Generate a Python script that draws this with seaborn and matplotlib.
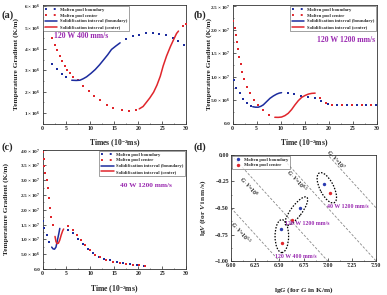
import matplotlib
matplotlib.use('Agg')
import matplotlib.pyplot as plt
import seaborn as sns
from matplotlib.lines import Line2D
from matplotlib.patches import Ellipse
from matplotlib.ticker import AutoMinorLocator

# estilo
sns.set_theme(style='ticks')
plt.rcParams['font.family'] = ['Liberation Serif', 'DejaVu Serif']
plt.rcParams['font.weight'] = 'bold'
plt.rcParams['mathtext.fontset'] = 'custom'
plt.rcParams['mathtext.rm'] = 'Liberation Serif:bold'
plt.rcParams['mathtext.it'] = 'Liberation Serif:italic:bold'
plt.rcParams['mathtext.bf'] = 'Liberation Serif:bold'

AZUL = '#1c2c9e'
VERMELHO = '#e0262c'
ROXO = '#9a2ab0'

# --- dados painel (a): 120 W 400 mm/s (gradiente em 1e6 K/m) ---
a_bnd_t = [2.0, 3.1, 4.1, 5.0, 17.4, 18.8, 20.2, 21.6, 23.0, 24.4, 25.8, 27.2, 28.4, 29.6]
a_bnd_g = [3.30, 3.05, 2.83, 2.69, 4.44, 4.59, 4.67, 4.75, 4.75, 4.70, 4.63, 4.52, 4.36, 4.16]
a_bnd_sol_t = [6.1, 7.0, 7.8, 8.5, 9.2, 10.1, 11.0, 11.9, 12.7, 13.6, 14.4, 15.3, 16.2]
a_bnd_sol_g = [2.53, 2.52, 2.53, 2.60, 2.69, 2.85, 3.03, 3.25, 3.47, 3.72, 3.97, 4.13, 4.28]
a_ctr_t = [2.0, 2.6, 3.1, 3.6, 4.1, 4.7, 5.2, 5.7, 6.4, 7.3, 8.4, 9.6, 10.8, 12.0, 13.4,
           14.8, 16.5, 18.1, 19.5, 29.3, 30.0]
a_ctr_g = [4.52, 4.20, 3.94, 3.66, 3.42, 3.19, 3.03, 2.88, 2.69, 2.53, 2.25, 2.02, 1.78,
           1.59, 1.39, 1.23, 1.13, 1.08, 1.16, 5.05, 5.18]
a_ctr_sol_t = [20.2, 21.0, 21.6, 22.4, 23.2, 23.9, 24.6, 25.2, 25.9, 26.7, 27.4, 28.0, 28.4]
a_ctr_sol_g = [1.19, 1.30, 1.47, 1.70, 1.97, 2.30, 2.72, 3.20, 3.66, 4.10, 4.44, 4.72, 4.83]

# --- dados painel (b): 120 W 1200 mm/s ---
b_bnd_t = [0.3, 0.7, 1.5, 2.2, 3.05, 3.75, 11.5, 12.8, 14.2, 15.8, 17.2, 18.4,
           19.8, 21.8, 23.9, 25.9, 27.9, 29.9]
b_bnd_g = [9.2, 7.5, 6.5, 5.3, 4.3, 3.8, 6.6, 6.3, 5.9, 5.6, 5.4, 4.9,
           4.2, 4.0, 4.0, 4.0, 4.0, 4.0]
b_bnd_sol_t = [4.2, 4.8, 5.35, 5.9, 6.4, 7.1, 7.8, 8.5, 9.2, 9.7, 10.2]
b_bnd_sol_g = [3.6, 3.5, 3.5, 3.7, 4.0, 4.7, 5.4, 5.9, 6.3, 6.5, 6.6]
b_ctr_t = [0.14, 0.42, 0.63, 0.83, 1.1, 1.4, 1.67, 2.0, 2.4, 2.9, 3.6, 4.4, 5.3, 6.4, 7.6,
           18.3, 19.4, 20.8, 22.8, 24.9, 26.9, 28.9]
b_ctr_g = [21.8, 20.4, 18.8, 17.4, 15.9, 14.3, 12.7, 11.1, 9.5, 7.9, 6.5, 5.1, 4.0, 2.8, 1.85,
           5.4, 4.5, 4.0, 4.0, 4.0, 4.0, 4.0]
b_ctr_sol_t = [8.8, 9.5, 10.2, 10.9, 11.6, 12.3, 13.0, 13.7, 14.4, 15.1, 15.8, 16.5, 17.2]
b_ctr_sol_g = [1.35, 1.33, 1.4, 1.7, 2.2, 3.0, 4.0, 4.9, 5.6, 6.0, 6.3, 6.45, 6.5]

# --- dados painel (c): 40 W 1200 mm/s ---
c_bnd_t = [0.0, 0.35, 0.84, 1.4, 5.3, 6.4, 7.4, 8.4, 9.4, 10.5, 11.7, 12.8, 14.1,
           15.5, 16.9, 18.3, 19.7, 21.1]
c_bnd_g = [16.2, 13.7, 11.6, 9.1, 13.3, 12.0, 10.2, 8.3, 6.8, 5.5, 4.2, 3.4, 2.9,
           2.3, 1.9, 1.6, 1.4, 1.1]
c_bnd_sol_t = [1.9, 2.2, 2.5, 2.8, 3.1, 3.4, 3.6]
c_bnd_sol_g = [7.4, 6.8, 6.7, 7.4, 9.7, 12.0, 13.7]
c_ctr_t = [0.0, 0.2, 0.4, 0.6, 0.84, 1.05, 1.25, 1.5, 1.8, 2.2, 5.4, 6.3, 7.1, 8.0, 8.9,
           9.9, 11.0, 12.0, 13.3, 14.7, 16.1, 17.4, 18.8, 20.2, 21.4]
c_ctr_g = [39.4, 37.1, 34.8, 32.5, 30.2, 27.4, 24.0, 20.5, 17.7, 14.8, 14.6, 13.1, 11.4,
           9.7, 8.0, 6.3, 4.9, 3.9, 3.1, 2.5, 2.1, 1.7, 1.5, 1.4, 1.1]
c_ctr_sol_t = [2.6, 2.8, 3.0, 3.3, 3.6, 3.9, 4.2, 4.4]
c_ctr_sol_g = [11.0, 9.3, 8.6, 8.7, 9.8, 11.5, 12.9, 13.5]

# --- dados painel (d): lgG x lgV ---
d_bnd_lgG = [6.52, 6.71, 6.96]
d_bnd_lgV = [-0.70, -0.50, -0.27]
d_ctr_lgG = [6.53, 6.63, 7.02]
d_ctr_lgV = [-0.83, -0.61, -0.36]
d_casos = ['120 W 400 mm/s', '120 W 1200 mm/s', '40 W 1200 mm/s']
d_casos_pos = [(6.67, -0.96), (6.79, -0.65), (7.21, -0.49)]
# elipses: centro, largura, altura, angulo
d_elipses = [((6.525, -0.765), 0.14, 0.31, 0),
             ((6.675, -0.53), 0.34, 0.11, 50),
             ((6.99, -0.31), 0.32, 0.14, -60)]
# linhas G*V = 10^c
d_gv_exp = [5.5, 6.0, 6.5, 7.0]
d_gv_txt = ['5.5', '6', '6.5', '7']
d_gv_pos = [(6.10, -0.74), (6.18, -0.30), (6.68, -0.25), (7.08, -0.05)]

legenda_txt = ['Molten pool boundary', 'Molten pool center',
               'Solidification interval (boundary)', 'Solidification interval (center)']

fig = plt.figure(figsize=(3.87, 2.95), dpi=100)
ax_a = fig.add_axes([0.110, 0.581, 0.371, 0.402])
ax_b = fig.add_axes([0.601, 0.581, 0.372, 0.402])
ax_c = fig.add_axes([0.110, 0.088, 0.371, 0.404])
ax_d = fig.add_axes([0.597, 0.115, 0.375, 0.360])


def estilo_eixo(ax, ysize=3.6):
    for s in ax.spines.values():
        s.set_linewidth(0.6)
        s.set_color('#333333')
    ax.tick_params(which='major', direction='in', length=2, width=0.5, pad=1.5,
                   colors='#222222')
    ax.tick_params(axis='x', labelsize=4.2)
    ax.tick_params(axis='y', labelsize=ysize)
    ax.tick_params(which='minor', direction='in', length=1, width=0.4)
    ax.xaxis.set_minor_locator(AutoMinorLocator(2))
    ax.yaxis.set_minor_locator(AutoMinorLocator(2))
    for lab in ax.get_xticklabels() + ax.get_yticklabels():
        lab.set_fontweight('bold')


def painel_tempo(ax, bnd_t, bnd_g, bsol_t, bsol_g, ctr_t, ctr_g, csol_t, csol_g):
    sns.scatterplot(x=bnd_t, y=[g * 1e6 for g in bnd_g], ax=ax, marker='s',
                    s=3.5, color=AZUL, linewidth=0, zorder=3)
    sns.scatterplot(x=ctr_t, y=[g * 1e6 for g in ctr_g], ax=ax, marker='s',
                    s=3.5, color=VERMELHO, linewidth=0, zorder=3)
    sns.lineplot(x=bsol_t, y=[g * 1e6 for g in bsol_g], ax=ax, color=AZUL, lw=1.1,
                 sort=False, estimator=None, zorder=4)
    sns.lineplot(x=csol_t, y=[g * 1e6 for g in csol_g], ax=ax, color=VERMELHO, lw=1.1,
                 sort=False, estimator=None, zorder=4)
    ax.set_xlim(0, 30)
    ax.set_xticks([0, 5, 10, 15, 20, 25, 30])


def legenda(ax, loc):
    handles = [Line2D([], [], color=AZUL, lw=1.4, ls=(0, (1, 3.5))),
               Line2D([], [], color=VERMELHO, lw=1.4, ls=(0, (1, 3.5))),
               Line2D([], [], color=AZUL, lw=1.1),
               Line2D([], [], color=VERMELHO, lw=1.1)]
    leg = ax.legend(handles, legenda_txt, loc=loc, prop={'weight': 'bold', 'size': 3.3},
                    frameon=True, fancybox=False, edgecolor='#333333', borderpad=0.4,
                    handlelength=2.7, labelspacing=0.35, borderaxespad=0.15,
                    handletextpad=0.6)
    leg.get_frame().set_linewidth(0.4)


# painel (a)
painel_tempo(ax_a, a_bnd_t, a_bnd_g, a_bnd_sol_t, a_bnd_sol_g,
             a_ctr_t, a_ctr_g, a_ctr_sol_t, a_ctr_sol_g)
ax_a.set_ylim(0.5e6, 6.05e6)
ticks_a = [1, 2, 3, 4, 5, 6]
ax_a.set_yticks([t * 1e6 for t in ticks_a])
ax_a.set_yticklabels([r'$%d\times10^6$' % t for t in ticks_a])
ax_a.set_xlabel(r'Times (10$^{-2}$ms)', fontsize=5.5, fontweight='bold')
ax_a.set_ylabel('Temperature Gradient (K/m)', fontsize=5.3, fontweight='bold')
ax_a.text(2.3, 4.6e6, '120 W 400 mm/s', color=ROXO, fontsize=5.6, fontweight='bold',
          va='center', ha='left')
legenda(ax_a, 'upper left')

# painel (b)
painel_tempo(ax_b, b_bnd_t, b_bnd_g, b_bnd_sol_t, b_bnd_sol_g,
             b_ctr_t, b_ctr_g, b_ctr_sol_t, b_ctr_sol_g)
ax_b.set_ylim(0, 2.53e7)
ticks_b = [0, 5e6, 1e7, 1.5e7, 2e7, 2.5e7]
ax_b.set_yticks(ticks_b)
ax_b.set_yticklabels(['0.0', r'$5.0\times10^6$', r'$1.0\times10^7$', r'$1.5\times10^7$',
                      r'$2.0\times10^7$', r'$2.5\times10^7$'])
ax_b.set_xlabel(r'Time (10$^{-2}$ms)', fontsize=5.5, fontweight='bold')
ax_b.set_ylabel('Temperature Gradient (K/m)', fontsize=5.3, fontweight='bold')
ax_b.text(29.7, 17.9e6, '120 W 1200 mm/s', color=ROXO, fontsize=5.6, fontweight='bold',
          va='center', ha='right')
legenda(ax_b, 'upper right')

# painel (c)
painel_tempo(ax_c, c_bnd_t, c_bnd_g, c_bnd_sol_t, c_bnd_sol_g,
             c_ctr_t, c_ctr_g, c_ctr_sol_t, c_ctr_sol_g)
ax_c.set_ylim(0, 4.02e7)
ticks_c = [0, 5e6, 1e7, 1.5e7, 2e7, 2.5e7, 3e7, 3.5e7, 4e7]
ax_c.set_yticks(ticks_c)
ax_c.set_yticklabels(['0.0', r'$5.0\times10^6$', r'$1.0\times10^7$', r'$1.5\times10^7$',
                      r'$2.0\times10^7$', r'$2.5\times10^7$', r'$3.0\times10^7$',
                      r'$3.5\times10^7$', r'$4.0\times10^7$'])
ax_c.set_xlabel(r'Time (10$^{-2}$ms)', fontsize=5.5, fontweight='bold')
ax_c.set_ylabel('Temperature Gradient (K/m)', fontsize=5.3, fontweight='bold')
ax_c.text(16.2, 28.3e6, '40 W 1200 mm/s', color=ROXO, fontsize=5.3, fontweight='bold',
          va='center', ha='left')
legenda(ax_c, 'upper right')

# painel (d)
ax_d.set_xlim(6.0, 7.5)
ax_d.set_ylim(-1.0, 0.0)
for c, txt, (px, py) in zip(d_gv_exp, d_gv_txt, d_gv_pos):
    sns.lineplot(x=[6.0, 7.5], y=[c - 6.0, c - 7.5], ax=ax_d, color='#888888', lw=0.6,
                 ls=(0, (3, 2)), zorder=1)
    ax_d.text(px, py, r'$G\cdot V$=10$^{%s}$' % txt, rotation=-47.5, fontsize=4.2,
              fontweight='bold', ha='center', va='center', rotation_mode='anchor')
for (cx, cy), w, h, ang in d_elipses:
    ax_d.add_patch(Ellipse((cx, cy), w, h, angle=ang, fill=False, ec='black', lw=0.9,
                           ls=(0, (1.2, 1.2)), zorder=2))
sns.scatterplot(x=d_bnd_lgG, y=d_bnd_lgV, ax=ax_d, color='#2a3ab0', s=6, linewidth=0,
                zorder=3, label='Molten pool boundary')
sns.scatterplot(x=d_ctr_lgG, y=d_ctr_lgV, ax=ax_d, color=VERMELHO, s=6, linewidth=0,
                zorder=3, label='Molten pool center')
for txt, (px, py) in zip(d_casos, d_casos_pos):
    ax_d.text(px, py, txt, color=ROXO, fontsize=4.2, fontweight='bold', ha='center',
              va='center')
ax_d.set_xticks([6.0, 6.25, 6.5, 6.75, 7.0, 7.25, 7.5])
ax_d.set_yticks([-1.0, -0.75, -0.5, -0.25, 0.0])
ax_d.set_xticklabels(['6.00', '6.25', '6.50', '6.75', '7.00', '7.25', '7.50'])
ax_d.set_yticklabels(['\u22121.00', '\u22120.75', '\u22120.50', '\u22120.25', '0.00'])
ax_d.set_xlabel(r'lg$G$ (for $G$ in K/m)', fontsize=5.3, fontweight='bold')
ax_d.set_ylabel(r'lg$V$ (for $V$ in m/s)', fontsize=5.3, fontweight='bold')
leg = ax_d.legend(loc='upper left', prop={'weight': 'bold', 'size': 3.3}, frameon=True,
                  fancybox=False, edgecolor='#333333', borderpad=0.4, labelspacing=0.3,
                  borderaxespad=0.15, handletextpad=0.3, markerscale=1.0)
leg.get_frame().set_linewidth(0.4)

for ax in [ax_a, ax_b, ax_c]:
    estilo_eixo(ax, 3.8)
estilo_eixo(ax_d, 4.2)

# posicoes dos rotulos dos eixos
ax_a.xaxis.set_label_coords(0.5, -0.118)
ax_b.xaxis.set_label_coords(0.5, -0.118)
ax_c.xaxis.set_label_coords(0.5, -0.118)
ax_d.xaxis.set_label_coords(0.5, -0.226)
ax_a.yaxis.set_label_coords(-0.165, 0.5)
ax_b.yaxis.set_label_coords(-0.146, 0.5)
ax_c.yaxis.set_label_coords(-0.235, 0.5)
ax_d.yaxis.set_label_coords(-0.159, 0.5)

# letras dos paineis
for txt, x, y in [('(a)', 0.005, 0.949), ('(b)', 0.501, 0.949),
                  ('(c)', 0.005, 0.502), ('(d)', 0.501, 0.502)]:
    fig.text(x, y, txt, fontsize=7.5, fontweight='bold', va='center', ha='left')

fig.savefig('out.png', dpi=100)
